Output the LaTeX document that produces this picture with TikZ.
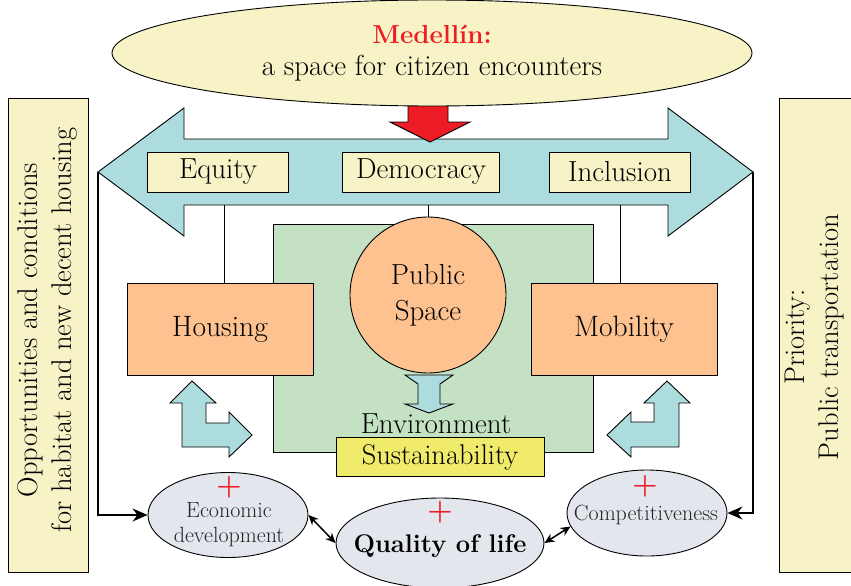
\documentclass[tikz,border=0pt]{standalone}
\usepackage{tikz}
\usetikzlibrary{shapes.geometric}
\usetikzlibrary{arrows.meta,arrows}
\usetikzlibrary{positioning}
\usetikzlibrary{calc, shapes, backgrounds}
\usepackage{color}

\definecolor{paleyellow}{HTML}{F7F3C6}
\definecolor{arrowblue}{HTML}{ADDCDE}
\definecolor{peach}{HTML}{FDC28F}
\definecolor{palegreen}{HTML}{C4E2C3}
\definecolor{sustyellow}{HTML}{F1EB6C}
\definecolor{palegray}{HTML}{E4E6EE}
\definecolor{medred}{HTML}{EE1C25}

\begin{document}
\begin{tikzpicture}[x=1pt,y=-1pt,line width=0.9pt]
\tikzstyle{value node}=[rectangle,draw,fill=paleyellow,minimum width=141pt,minimum height=40pt,inner sep=0,font=\fontsize{29}{34}\selectfont]
\tikzstyle{peach node}=[rectangle,draw,fill=peach,minimum width=186pt,minimum height=92pt,font=\fontsize{29.5}{34}\selectfont]
\tikzstyle{side node}=[rectangle,draw,fill=paleyellow,inner sep=0]
\tikzstyle{side text}=[rotate=90,align=center,font=\fontsize{28.5}{34}\selectfont]
\tikzset{
  goal node/.style = {ellipse,draw,fill=palegray,inner sep=0},
  small text/.style = {align=center,font=\fontsize{22}{25}\selectfont,text=black!85,inner sep=1pt},
  plus/.style = {text=medred,font=\bfseries\fontsize{29}{29}\selectfont,inner sep=0},
  blue arrow/.style = {draw,fill=arrowblue,line join=miter},
  both tips/.style = {{Stealth[length=10pt,width=9pt]}-{Stealth[length=10pt,width=9pt]},line width=1.5pt},
  side tip/.style = {-{Stealth[length=15pt,width=13pt]},line width=1.2pt}
}
\useasboundingbox (0,0) rectangle (851,586);

    % side columns
    \node[side node,minimum width=80pt,minimum height=474pt] (habitat) at (48,335) {};
    \node[side text] (habitattxt) at (47,330) {Opportunities and conditions\\for habitat and new decent housing};
    \node[side node,minimum width=76pt,minimum height=474pt] (transport) at (817,335) {};
    \node[side text] (transporttxt) at (815,337) {Priority:\\Public transportation};

    % big double arrow of values
    \draw[blue arrow] (98,172) -- (184,108) -- (184,139) -- (668,139) -- (668,108)
        -- (753,172) -- (668,236) -- (668,205) -- (184,205) -- (184,236) -- cycle;
    \coordinate (ltip) at (98,172);
    \coordinate (rtip) at (753,172);

    % red arrow from the city
    \draw[fill=medred,line join=miter] (408,100) -- (448,100) -- (448,122) -- (470,122)
        -- (430,142) -- (390,122) -- (408,122) -- cycle;
    \node[ellipse,draw,fill=paleyellow,minimum width=640pt,minimum height=106pt,align=center] (city) at (432,53)
        {{\color{medred}\bfseries\fontsize{26}{26}\selectfont Medellín:}\\[11pt]
         {\fontsize{29}{32}\selectfont a space for citizen encounters}};

    \node[value node] (equity) at (218,172) {Equity};
    \node[value node,minimum width=157pt] (democracy) at (421,172) {Democracy};
    \node[value node] (inclusion) at (620,172) {Inclusion};

    % environment block
    \node[rectangle,draw,fill=palegreen,minimum width=320pt,minimum height=228pt] (env) at (433,338) {};
    \coordinate (eqfoot) at (224,205);
    \coordinate (demfoot) at (428,205);
    \coordinate (incfoot) at (620,205);

    \node[circle,draw,fill=peach,minimum size=156pt,align=center,font=\fontsize{29}{36}\selectfont] (public) at (428,295) {Public\\Space};
    \node[peach node] (housing) at (220,329) {Housing};
    \node[peach node] (mobility) at (624,329) {Mobility};

    \draw[blue arrow] (405,375) -- (453,375) -- (440,384) -- (440,404) -- (453,404) -- (429,413)
        -- (405,404) -- (418,404) -- (418,384) -- cycle;
    \node[font=\fontsize{29}{32}\selectfont] (envtxt) at (436,424) {Environment};
    \node[rectangle,draw,fill=sustyellow,minimum width=208pt,minimum height=39pt,font=\fontsize{28.5}{32}\selectfont] (sust) at (440,457) {Sustainability};

    % L shaped arrows
    \draw[blue arrow] (192,381) -- (216,403) -- (206,403) -- (206,423) -- (229,423) -- (229,412)
        -- (252,435) -- (229,457) -- (229,447) -- (182,447) -- (182,403) -- (170,403) -- cycle;
    \draw[blue arrow] (667,381) -- (690,403) -- (679,403) -- (679,447) -- (631,447) -- (631,457)
        -- (607,435) -- (631,412) -- (631,422) -- (654,422) -- (654,403) -- (644,403) -- cycle;

    % results
    \node[goal node,minimum width=160pt,minimum height=85pt] (econ) at (228,515) {};
    \node[plus] (econplus) at (229,487) {+};
    \node[small text] (econtxt) at (229,525) {Economic\\development};
    \node[goal node,minimum width=208pt,minimum height=90pt] (quality) at (440,543) {};
    \node[plus] (qualplus) at (440,512) {+};
    \node[font=\bfseries\fontsize{25.5}{28}\selectfont] (qualtxt) at (440,546) {Quality of life};
    \node[goal node,minimum width=160pt,minimum height=86pt] (comp) at (647,513) {};
    \node[plus] (compplus) at (645,486) {+};
    \node[small text] (comptxt) at (646,515) {Competitiveness};

    \path
        (eqfoot) edge (eqfoot |- housing.north)
        (demfoot) edge (public.north)
        (incfoot) edge (incfoot |- mobility.north);
    \draw[side tip] (ltip) |- (econ.west);
    \draw[side tip] (rtip) |- (comp.east);
    \draw[both tips] (econ.east) -- (quality.west);
    \draw[both tips] (quality.east) -- (comp.190);
\end{tikzpicture}
\end{document}
